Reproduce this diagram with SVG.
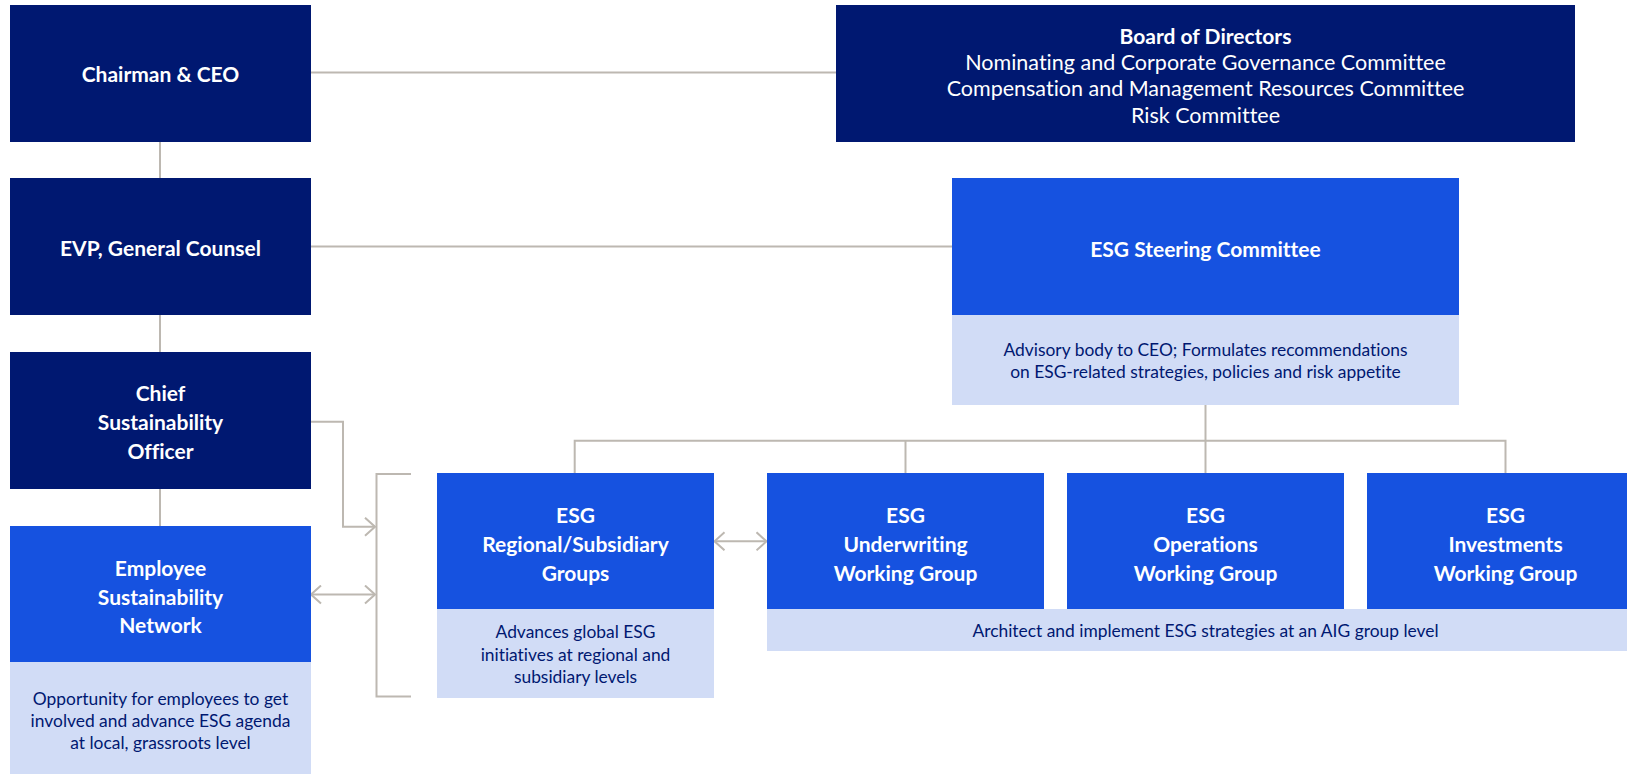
<svg xmlns="http://www.w3.org/2000/svg" width="1627" height="774" viewBox="0 0 1627 774">
<defs>
<style>
.dark{fill:#001871}
.blue{fill:#1652e0}
.light{fill:#d1dcf6}
text{font-variant-ligatures:none}
.t{font-family:Lato,"Liberation Sans",sans-serif;font-weight:bold;font-size:21px;fill:#ffffff;text-anchor:middle;dominant-baseline:central}
.r{font-family:Lato,"Liberation Sans",sans-serif;font-size:21.5px;fill:#ffffff;text-anchor:middle;dominant-baseline:central}
.d{font-family:Lato,"Liberation Sans",sans-serif;font-size:17.4px;fill:#001871;text-anchor:middle;dominant-baseline:central}
.ln{fill:none;stroke:#bdb8b1;stroke-width:2}
</style>
<marker id="arr" viewBox="0 0 12 20" refX="11" refY="10" markerWidth="12" markerHeight="20" markerUnits="userSpaceOnUse" orient="auto-start-reverse">
<path d="M1,1 L11,10 L1,19" fill="none" stroke="#bdb8b1" stroke-width="2"/>
</marker>
</defs>

<g id="connectors">
<path class="ln" d="M311,72.5 H836"/>
<path class="ln" d="M160,142 V178"/>
<path class="ln" d="M311,246.5 H952"/>
<path class="ln" d="M160,315 V352"/>
<path class="ln" d="M160,489 V526"/>
<path class="ln" d="M311,421.7 H343 V526.7 H375" marker-end="url(#arr)"/>
<path class="ln" d="M311,594.5 H375" marker-start="url(#arr)" marker-end="url(#arr)"/>
<path class="ln" d="M411,474 H376.5 V696.5 H411"/>
<path class="ln" d="M714.5,541.3 H766.5" marker-start="url(#arr)" marker-end="url(#arr)"/>
<path class="ln" d="M1205.5,405 V440.7"/>
<path class="ln" d="M574.7,473 V440.7 H1505.5 V473"/>
<path class="ln" d="M905.5,440.7 V473"/>
<path class="ln" d="M1205.5,440.7 V473"/>
</g>

<g id="chairman">
<rect class="dark" x="10" y="5" width="301" height="137"/>
<text class="t" x="160.5" y="73">Chairman &amp; CEO</text>
</g>

<g id="board">
<rect class="dark" x="836" y="5" width="739" height="137"/>
<text class="t" x="1205.5" y="35">Board of Directors</text>
<text class="r" x="1205.5" y="61.7">Nominating and Corporate Governance Committee</text>
<text class="r" x="1205.5" y="88.3">Compensation and Management Resources Committee</text>
<text class="r" x="1205.5" y="115">Risk Committee</text>
</g>

<g id="evp">
<rect class="dark" x="10" y="178" width="301" height="137"/>
<text class="t" x="160.5" y="247">EVP, General Counsel</text>
</g>

<g id="steering">
<rect class="blue" x="952" y="178" width="507" height="137"/>
<rect class="light" x="952" y="315" width="507" height="90"/>
<text class="t" x="1205.5" y="248">ESG Steering Committee</text>
<text class="d" x="1205.5" y="349.3">Advisory body to CEO; Formulates recommendations</text>
<text class="d" x="1205.5" y="371">on ESG-related strategies, policies and risk appetite</text>
</g>

<g id="cso">
<rect class="dark" x="10" y="352" width="301" height="137"/>
<text class="t" x="160.5" y="392.7">Chief</text>
<text class="t" x="160.5" y="421.7">Sustainability</text>
<text class="t" x="160.5" y="450.7">Officer</text>
</g>

<g id="esn">
<rect class="blue" x="10" y="526" width="301" height="136"/>
<rect class="light" x="10" y="662" width="301" height="112"/>
<text class="t" x="160.5" y="567.3">Employee</text>
<text class="t" x="160.5" y="596">Sustainability</text>
<text class="t" x="160.5" y="624.7">Network</text>
<text class="d" x="160.5" y="698.3">Opportunity for employees to get</text>
<text class="d" x="160.5" y="720.5">involved and advance ESG agenda</text>
<text class="d" x="160.5" y="742.7">at local, grassroots level</text>
</g>

<g id="regional">
<rect class="blue" x="437" y="473" width="277" height="136"/>
<rect class="light" x="437" y="609" width="277" height="89"/>
<text class="t" x="575.5" y="514">ESG</text>
<text class="t" x="575.5" y="543">Regional/Subsidiary</text>
<text class="t" x="575.5" y="572">Groups</text>
<text class="d" x="575.5" y="631">Advances global ESG</text>
<text class="d" x="575.5" y="654">initiatives at regional and</text>
<text class="d" x="575.5" y="676.5">subsidiary levels</text>
</g>

<g id="underwriting">
<rect class="blue" x="767" y="473" width="277" height="136"/>
<text class="t" x="905.5" y="514">ESG</text>
<text class="t" x="905.5" y="543">Underwriting</text>
<text class="t" x="905.5" y="572">Working Group</text>
</g>

<g id="operations">
<rect class="blue" x="1067" y="473" width="277" height="136"/>
<text class="t" x="1205.5" y="514">ESG</text>
<text class="t" x="1205.5" y="543">Operations</text>
<text class="t" x="1205.5" y="572">Working Group</text>
</g>

<g id="investments">
<rect class="blue" x="1367" y="473" width="277" height="136"/>
<text class="t" x="1505.5" y="514">ESG</text>
<text class="t" x="1505.5" y="543">Investments</text>
<text class="t" x="1505.5" y="572">Working Group</text>
</g>

<g id="working-groups-note">
<rect class="light" x="767" y="609" width="877" height="42"/>
<text class="d" x="1205.5" y="630">Architect and implement ESG strategies at an AIG group level</text>
</g>
</svg>
